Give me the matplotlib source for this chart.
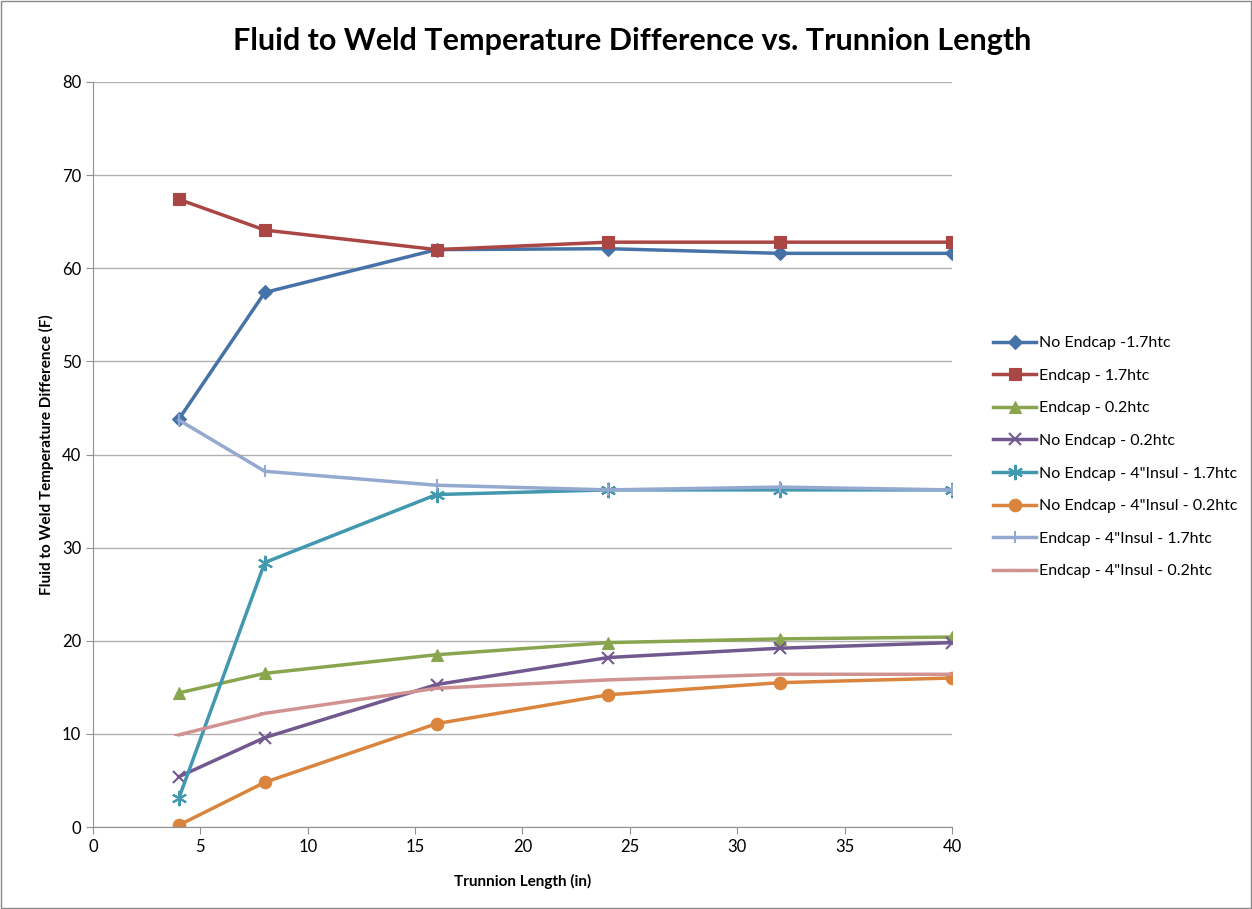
import matplotlib
matplotlib.use('Agg')
import matplotlib.pyplot as plt

plt.rcParams['font.family'] = ['Lato', 'DejaVu Sans']

trunnion_len = [4, 8, 16, 24, 32, 40]

no_endcap_17 = [43.8, 57.4, 62.0, 62.1, 61.6, 61.6]
endcap_17 = [67.4, 64.1, 62.0, 62.8, 62.8, 62.8]
endcap_02 = [14.4, 16.5, 18.5, 19.8, 20.2, 20.4]
no_endcap_02 = [5.4, 9.6, 15.3, 18.2, 19.2, 19.8]
no_endcap_ins_17 = [3.1, 28.4, 35.7, 36.2, 36.2, 36.2]
no_endcap_ins_02 = [0.2, 4.8, 11.1, 14.2, 15.5, 16.0]
endcap_ins_17 = [43.7, 38.2, 36.7, 36.2, 36.5, 36.2]
endcap_ins_02 = [9.9, 12.2, 14.9, 15.8, 16.4, 16.4]

series = [
    ('No Endcap -1.7htc', no_endcap_17, '#4572a7', 'D', 7),
    ('Endcap - 1.7htc', endcap_17, '#aa4643', 's', 9),
    ('Endcap - 0.2htc', endcap_02, '#89a54e', '^', 9),
    ('No Endcap - 0.2htc', no_endcap_02, '#71588f', 'x', 9),
    ('No Endcap - 4"Insul - 1.7htc', no_endcap_ins_17, '#4198af', (6, 2, 0), 11),
    ('No Endcap - 4"Insul - 0.2htc', no_endcap_ins_02, '#db843d', 'o', 9),
    ('Endcap - 4"Insul - 1.7htc', endcap_ins_17, '#93a9cf', '|', 9),
    ('Endcap - 4"Insul - 0.2htc', endcap_ins_02, '#d19392', '_', 7),
]

fig = plt.figure(figsize=(12.52, 9.09), dpi=100)
ax = fig.add_axes([93 / 1252, 1 - 827 / 909, (952 - 93) / 1252, (827 - 82) / 909])

for name, vals, col, mk, ms in series:
    ax.plot(trunnion_len, vals, color=col, lw=2.5, marker=mk, markersize=ms,
            markeredgewidth=1.5 if mk in ('x', '|', '_') or isinstance(mk, tuple) else 0.8,
            markeredgecolor=col, label=name)

ax.set_xlim(0, 40)
ax.set_ylim(0, 80)
ax.set_xticks(range(0, 41, 5))
ax.set_yticks(range(0, 81, 10))
ax.grid(axis='y', color='#b0b0b0', lw=1)
ax.set_axisbelow(True)
for s in ('top', 'right'):
    ax.spines[s].set_visible(False)
for s in ('left', 'bottom'):
    ax.spines[s].set_color('#909090')
ax.tick_params(axis='both', colors='#909090', labelcolor='black', labelsize=12, length=5)

ax.set_xlabel('Trunnion Length (in)', fontsize=11, fontweight='bold', labelpad=14)
ax.set_ylabel('Fluid to Weld Temperature Difference (F)', fontsize=11, fontweight='bold', labelpad=6)
fig.suptitle('Fluid to Weld Temperature Difference vs. Trunnion Length',
             fontsize=22, fontweight='bold', y=0.97, x=0.505)

fig.legend(loc='upper left', bbox_to_anchor=(982 / 1252, 1 - 325 / 909), frameon=False,
           fontsize=11.5, labelspacing=1.15, handlelength=2.7, handletextpad=0.15,
           borderpad=0.2)

# outer border
fig.patches.append(plt.Rectangle((0.001, 0.001), 0.998, 0.998, transform=fig.transFigure,
                                 fill=False, edgecolor='#888888', lw=1))

fig.savefig('out.png', dpi=100)
